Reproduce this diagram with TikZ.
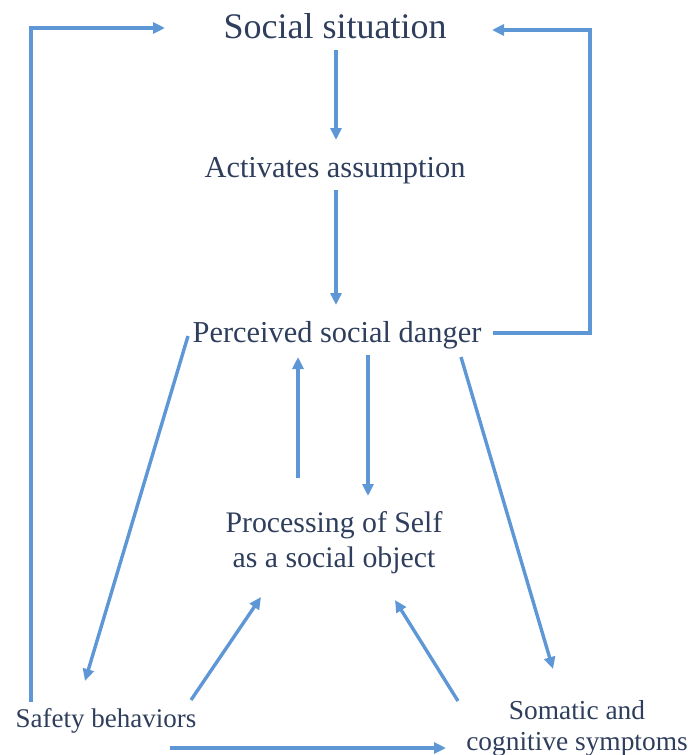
\documentclass[tikz,border=0pt]{standalone}
\usepackage{fontspec}
\setmainfont{Liberation Serif}
\usetikzlibrary{arrows.meta}
\definecolor{arr}{RGB}{94,151,214}
\definecolor{txt}{RGB}{46,62,92}
\begin{document}
\begin{tikzpicture}[x=1pt,y=-1pt,
  lbl/.style={text=txt,inner sep=0pt,align=center},
  conn/.style={draw=arr,line width=3.4pt,-{Triangle[length=12pt,width=11pt]}}]
\useasboundingbox (0,0) rectangle (688,755);
\node[lbl,font=\fontsize{36}{40}\selectfont] (ss) at (335,26) {Social situation};
\node[lbl,font=\fontsize{30.4}{34}\selectfont] (aa) at (335,171) {Activates assumption};
\node[lbl,font=\fontsize{30.4}{34}\selectfont] (pd) at (337,335) {Perceived social danger};
\node[lbl,font=\fontsize{29.8}{35}\selectfont] (ps) at (334,543) {Processing of Self\\as a social object};
\node[lbl,font=\fontsize{27}{30}\selectfont] (sb) at (106,721) {Safety behaviors};
\node[lbl,font=\fontsize{27.4}{31}\selectfont] (sc) at (577,728) {Somatic and\\cognitive symptoms};
% coordinates
\coordinate (ssb) at (336,50);
\coordinate (aat) at (336,140);
\coordinate (aab) at (336,190);
\coordinate (pdt) at (336,305);
\coordinate (lb) at (31,702);
\coordinate (lt) at (31,28);
\coordinate (ssl) at (165,28);
\coordinate (pdr) at (493,333);
\coordinate (rb) at (590,333);
\coordinate (rt) at (590,30);
\coordinate (ssr) at (492,30);
\coordinate (upa) at (298,478);
\coordinate (upb) at (298,357);
\coordinate (dna) at (368,355);
\coordinate (dnb) at (368,496);
\coordinate (d1a) at (188,336);
\coordinate (d1b) at (85,681);
\coordinate (d2a) at (461,357);
\coordinate (d2b) at (553,669);
\coordinate (d3a) at (191,700);
\coordinate (d3b) at (261,597);
\coordinate (d4a) at (458,701);
\coordinate (d4b) at (395,600);
\coordinate (bta) at (170,748);
\coordinate (btb) at (446,748);
% connectors
\draw[conn] (ssb) -- (aat);
\draw[conn] (aab) -- (pdt);
\draw[conn] (lb) -- (lt) -- (ssl);
\draw[conn] (pdr) -- (rb) -- (rt) -- (ssr);
\draw[conn] (upa) -- (upb);
\draw[conn] (dna) -- (dnb);
\draw[conn] (d1a) -- (d1b);
\draw[conn] (d2a) -- (d2b);
\draw[conn] (d3a) -- (d3b);
\draw[conn] (d4a) -- (d4b);
\draw[conn] (bta) -- (btb);
\end{tikzpicture}
\end{document}
